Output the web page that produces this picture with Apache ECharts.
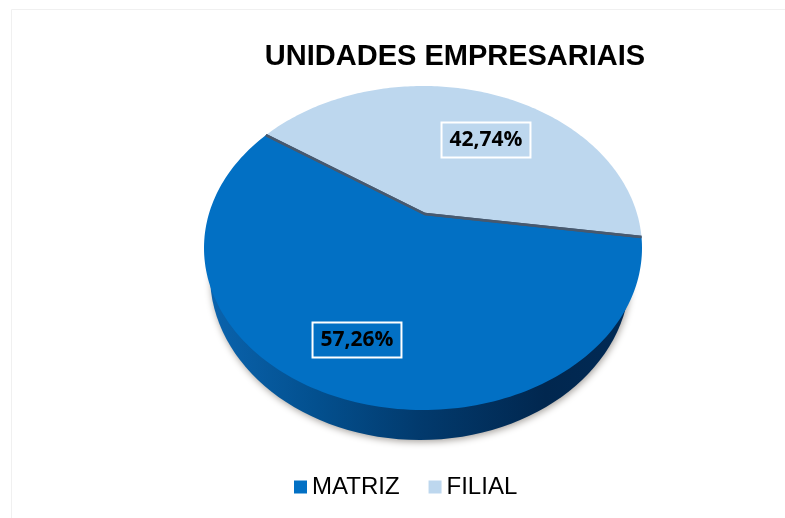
<!DOCTYPE html>
<html><head><meta charset="utf-8">
<style>html,body{margin:0;padding:0;background:#fff}#c{width:785px;height:518px}</style>
<script src="https://cdn.jsdelivr.net/npm/echarts@6/dist/echarts.min.js"></script>
</head><body><div id="c"></div>
<script>
const titleText = 'UNIDADES EMPRESARIAIS';
const categories = ['MATRIZ', 'FILIAL'];
const shares = [57.26, 42.74];
const colors = ['#0270c4', '#bdd7ee'];

// Drawing geometry of the tilted pie (perspective ellipse)
const top_ = {cx: 423, cy: 248, rx: 219, ry: 162};
const low = {cx: 420, cy: 275, rx: 210, ry: 165};
const apex = {x: 425, y: 214};
const startEdgeAngle = -3.9 * Math.PI / 180;
const labelSpots = [[357, 340], [486, 140]];

const p = {x: (apex.x - top_.cx) / top_.rx, y: (apex.y - top_.cy) / top_.ry};
const k = 1 / (1 + Math.sqrt(1 - p.x * p.x - p.y * p.y));
const a = {x: p.x * k, y: p.y * k};
function mul(u, v) { return {x: u.x * v.x - u.y * v.y, y: u.x * v.y + u.y * v.x}; }
function div(u, v) { const d = v.x * v.x + v.y * v.y; return {x: (u.x * v.x + u.y * v.y) / d, y: (u.y * v.x - u.x * v.y) / d}; }
const conjA = {x: a.x, y: -a.y};
function project(theta) {
  const z = {x: Math.cos(theta), y: Math.sin(theta)};
  const n = {x: z.x + a.x, y: z.y + a.y};
  const m = mul(conjA, z);
  const w = div(n, {x: 1 + m.x, y: m.y});
  return [top_.cx + top_.rx * w.x, top_.cy + top_.ry * w.y];
}
function unproject(phi) {
  const w = {x: Math.cos(phi), y: Math.sin(phi)};
  const m = mul(conjA, w);
  const z = div({x: w.x - a.x, y: w.y - a.y}, {x: 1 - m.x, y: -m.y});
  return Math.atan2(z.y, z.x);
}
const startTheta = unproject(startEdgeAngle);
const total = shares.reduce((s, v) => s + v, 0);
function sliceRange(idx) {
  let before = 0;
  for (let i = 0; i < idx; i++) before += shares[i];
  return [startTheta + before / total * 2 * Math.PI, startTheta + (before + shares[idx]) / total * 2 * Math.PI];
}
function fmt(v) { return v.toFixed(2).replace('.', ',') + '%'; }

function sliceItem(idx) {
  return function (params, api) {
    const value = api.value(0);
    const r = sliceRange(idx);
    const pts = [[apex.x, apex.y]];
    const steps = 160;
    for (let i = 0; i <= steps; i++) pts.push(project(r[0] + (r[1] - r[0]) * i / steps));
    return {
      type: 'group',
      children: [
        {type: 'polygon', shape: {points: pts}, style: {fill: colors[idx]}, z2: 2},
        {type: 'polyline', shape: {points: [project(r[0]), [apex.x, apex.y], project(r[1])]},
          style: {stroke: '#47596f', lineWidth: 2.5, fill: 'none'}, z2: 3},
        {type: 'text', z2: 6, style: {
          x: labelSpots[idx][0], y: labelSpots[idx][1], text: fmt(value),
          align: 'center', verticalAlign: 'middle',
          font: 'bold 21px "Open Sans"', fill: '#000',
          borderColor: '#fff', borderWidth: 2, padding: [7, 8, 7, 8]
        }}
      ]
    };
  };
}
function depthItem() {
  return {
    type: 'ellipse',
    shape: {cx: low.cx, cy: low.cy, rx: low.rx, ry: low.ry},
    style: {
      fill: new echarts.graphic.LinearGradient(0, 0, 1, 0, [
        {offset: 0, color: '#0a63ad'}, {offset: 0.25, color: '#03508f'},
        {offset: 0.5, color: '#023a6d'}, {offset: 0.8, color: '#01274f'}, {offset: 1, color: '#012a55'}
      ]),
      shadowColor: 'rgba(60,50,40,0.45)', shadowBlur: 7, shadowOffsetX: 1, shadowOffsetY: 2
    }
  };
}

const chart = echarts.init(document.getElementById('c'), null, {renderer: 'canvas'});
chart.setOption({
  animation: false,
  backgroundColor: '#fff',
  title: {
    text: titleText, left: 450, top: 37, textAlign: 'center',
    textStyle: {fontFamily: 'Liberation Sans', fontWeight: 'bold', fontSize: 29, color: '#000'}
  },
  legend: {
    data: categories, left: 294, top: 475, icon: 'rect',
    itemWidth: 13, itemHeight: 13, itemGap: 29, padding: 0,
    textStyle: {fontFamily: 'Liberation Sans', fontSize: 24, color: '#000', padding: [3, 0, 0, 0]}
  },
  graphic: [
    {type: 'polyline', shape: {points: [[11.5, 518], [11.5, 9.5], [785, 9.5]]},
      style: {stroke: '#f0f0f0', lineWidth: 1, fill: 'none'}, silent: true}
  ],
  series: [
    {type: 'custom', name: 'depth', coordinateSystem: 'none', silent: true, z: 1, data: [[1]], renderItem: depthItem},
    {type: 'custom', name: categories[0], coordinateSystem: 'none', silent: true, z: 3,
      itemStyle: {color: colors[0]}, data: [[shares[0]]], renderItem: sliceItem(0)},
    {type: 'custom', name: categories[1], coordinateSystem: 'none', silent: true, z: 3,
      itemStyle: {color: colors[1]}, data: [[shares[1]]], renderItem: sliceItem(1)}
  ]
});
</script></body></html>
